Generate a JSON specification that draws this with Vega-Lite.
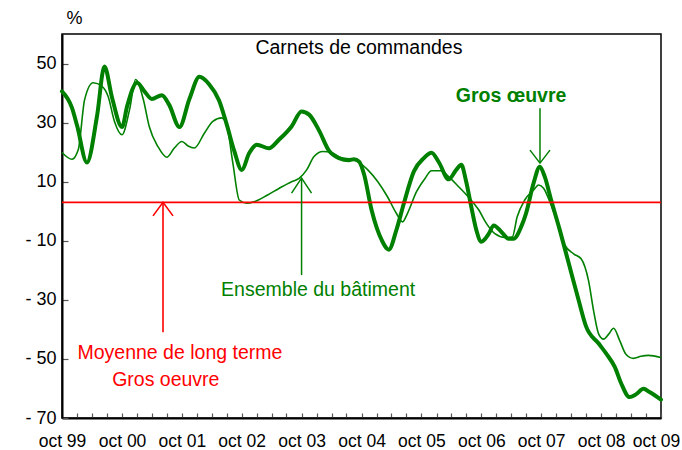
{
  "$schema": "https://vega.github.io/schema/vega-lite/v6.json",
  "autosize": "none",
  "width": 599,
  "height": 384,
  "padding": {"left": 62, "top": 34, "right": 21, "bottom": 32},
  "background": "#ffffff",
  "config": {
    "font": "Liberation Sans",
    "view": {"stroke": "#000000", "strokeWidth": 1.5},
    "axis": {"grid": false, "labelColor": "#000000", "domainColor": "#000000", "domainWidth": 2, "tickColor": "#555555", "tickWidth": 1.2, "labelFontSize": 18, "labelFont": "Liberation Sans"}
  },
  "datasets": {
    "series": [
      {"date": "1999-10-01", "series": "gros", "value": 40.6},
      {"date": "1999-12-01", "series": "gros", "value": 35},
      {"date": "2000-01-01", "series": "gros", "value": 29},
      {"date": "2000-03-01", "series": "gros", "value": 16.5},
      {"date": "2000-05-01", "series": "gros", "value": 32},
      {"date": "2000-06-16", "series": "gros", "value": 49},
      {"date": "2000-08-01", "series": "gros", "value": 38.5},
      {"date": "2000-10-01", "series": "gros", "value": 28.5},
      {"date": "2000-11-01", "series": "gros", "value": 35.5},
      {"date": "2001-01-01", "series": "gros", "value": 43.5},
      {"date": "2001-02-16", "series": "gros", "value": 40.5},
      {"date": "2001-04-01", "series": "gros", "value": 38},
      {"date": "2001-06-01", "series": "gros", "value": 39.3},
      {"date": "2001-07-16", "series": "gros", "value": 36},
      {"date": "2001-09-16", "series": "gros", "value": 28.5},
      {"date": "2001-11-16", "series": "gros", "value": 38},
      {"date": "2002-01-16", "series": "gros", "value": 45.5},
      {"date": "2002-03-16", "series": "gros", "value": 43},
      {"date": "2002-05-16", "series": "gros", "value": 37.5},
      {"date": "2002-07-01", "series": "gros", "value": 29.5},
      {"date": "2002-08-16", "series": "gros", "value": 20.5},
      {"date": "2002-10-01", "series": "gros", "value": 14},
      {"date": "2002-11-16", "series": "gros", "value": 19.7},
      {"date": "2003-01-01", "series": "gros", "value": 22.5},
      {"date": "2003-03-16", "series": "gros", "value": 21.3},
      {"date": "2003-05-16", "series": "gros", "value": 24.2},
      {"date": "2003-08-01", "series": "gros", "value": 28.7},
      {"date": "2003-10-01", "series": "gros", "value": 33.8},
      {"date": "2003-11-16", "series": "gros", "value": 32.7},
      {"date": "2004-01-16", "series": "gros", "value": 27.3},
      {"date": "2004-03-16", "series": "gros", "value": 20.5},
      {"date": "2004-05-16", "series": "gros", "value": 18},
      {"date": "2004-07-16", "series": "gros", "value": 17.3},
      {"date": "2004-08-16", "series": "gros", "value": 17.6},
      {"date": "2004-09-16", "series": "gros", "value": 16.8},
      {"date": "2004-10-16", "series": "gros", "value": 12.5},
      {"date": "2004-12-01", "series": "gros", "value": 0.4},
      {"date": "2005-02-01", "series": "gros", "value": -9.8},
      {"date": "2005-03-16", "series": "gros", "value": -13},
      {"date": "2005-05-01", "series": "gros", "value": -6.4},
      {"date": "2005-06-16", "series": "gros", "value": 2.7},
      {"date": "2005-08-16", "series": "gros", "value": 13.5},
      {"date": "2005-10-16", "series": "gros", "value": 18},
      {"date": "2005-12-01", "series": "gros", "value": 19.8},
      {"date": "2006-01-16", "series": "gros", "value": 16.5},
      {"date": "2006-03-16", "series": "gros", "value": 10.8},
      {"date": "2006-05-01", "series": "gros", "value": 14},
      {"date": "2006-06-01", "series": "gros", "value": 15.7},
      {"date": "2006-07-01", "series": "gros", "value": 10},
      {"date": "2006-08-01", "series": "gros", "value": 1.5},
      {"date": "2006-09-01", "series": "gros", "value": -6.4},
      {"date": "2006-10-01", "series": "gros", "value": -10.3},
      {"date": "2006-11-16", "series": "gros", "value": -7.6},
      {"date": "2006-12-16", "series": "gros", "value": -4.8},
      {"date": "2007-02-01", "series": "gros", "value": -7},
      {"date": "2007-03-16", "series": "gros", "value": -9.3},
      {"date": "2007-04-16", "series": "gros", "value": -9.3},
      {"date": "2007-06-01", "series": "gros", "value": -5.3},
      {"date": "2007-07-01", "series": "gros", "value": -0.7},
      {"date": "2007-08-16", "series": "gros", "value": 9.5},
      {"date": "2007-09-23", "series": "gros", "value": 15.1},
      {"date": "2007-10-23", "series": "gros", "value": 11.7},
      {"date": "2007-12-01", "series": "gros", "value": 3.8},
      {"date": "2008-01-23", "series": "gros", "value": -6.4},
      {"date": "2008-03-23", "series": "gros", "value": -18.8},
      {"date": "2008-05-16", "series": "gros", "value": -30},
      {"date": "2008-07-01", "series": "gros", "value": -39},
      {"date": "2008-09-16", "series": "gros", "value": -44.8},
      {"date": "2008-11-01", "series": "gros", "value": -48.2},
      {"date": "2008-12-23", "series": "gros", "value": -52.7},
      {"date": "2009-02-01", "series": "gros", "value": -58.4},
      {"date": "2009-03-23", "series": "gros", "value": -62.9},
      {"date": "2009-05-01", "series": "gros", "value": -62},
      {"date": "2009-06-16", "series": "gros", "value": -60.1},
      {"date": "2009-07-23", "series": "gros", "value": -61.2},
      {"date": "2009-10-01", "series": "gros", "value": -63.8},
      {"date": "1999-10-01", "series": "ensemble", "value": 19.9},
      {"date": "1999-12-01", "series": "ensemble", "value": 17.6},
      {"date": "2000-01-08", "series": "ensemble", "value": 20.8},
      {"date": "2000-02-16", "series": "ensemble", "value": 37.8},
      {"date": "2000-04-08", "series": "ensemble", "value": 43.5},
      {"date": "2000-06-01", "series": "ensemble", "value": 42.3},
      {"date": "2000-07-08", "series": "ensemble", "value": 38.9},
      {"date": "2000-08-16", "series": "ensemble", "value": 30.4},
      {"date": "2000-10-01", "series": "ensemble", "value": 25.9},
      {"date": "2000-11-16", "series": "ensemble", "value": 34.4},
      {"date": "2000-12-23", "series": "ensemble", "value": 44.6},
      {"date": "2001-02-08", "series": "ensemble", "value": 37.8},
      {"date": "2001-03-16", "series": "ensemble", "value": 28.7},
      {"date": "2001-05-08", "series": "ensemble", "value": 21.9},
      {"date": "2001-07-01", "series": "ensemble", "value": 18.3},
      {"date": "2001-08-16", "series": "ensemble", "value": 21.4},
      {"date": "2001-10-01", "series": "ensemble", "value": 23.6},
      {"date": "2001-11-08", "series": "ensemble", "value": 22.1},
      {"date": "2001-12-16", "series": "ensemble", "value": 21.4},
      {"date": "2002-02-16", "series": "ensemble", "value": 26.5},
      {"date": "2002-04-08", "series": "ensemble", "value": 30.4},
      {"date": "2002-06-01", "series": "ensemble", "value": 31.6},
      {"date": "2002-07-01", "series": "ensemble", "value": 29.3},
      {"date": "2002-08-08", "series": "ensemble", "value": 16.3},
      {"date": "2002-09-16", "series": "ensemble", "value": 3.8},
      {"date": "2002-11-01", "series": "ensemble", "value": 2.7},
      {"date": "2002-12-16", "series": "ensemble", "value": 3.2},
      {"date": "2003-03-08", "series": "ensemble", "value": 5.5},
      {"date": "2003-05-16", "series": "ensemble", "value": 7.7},
      {"date": "2003-08-01", "series": "ensemble", "value": 10},
      {"date": "2003-09-16", "series": "ensemble", "value": 11.1},
      {"date": "2003-11-01", "series": "ensemble", "value": 14},
      {"date": "2003-12-16", "series": "ensemble", "value": 18.5},
      {"date": "2004-02-08", "series": "ensemble", "value": 20.2},
      {"date": "2004-04-01", "series": "ensemble", "value": 19.9},
      {"date": "2004-06-01", "series": "ensemble", "value": 18},
      {"date": "2004-08-01", "series": "ensemble", "value": 17.6},
      {"date": "2004-09-08", "series": "ensemble", "value": 16.8},
      {"date": "2004-11-08", "series": "ensemble", "value": 14},
      {"date": "2005-01-08", "series": "ensemble", "value": 10},
      {"date": "2005-03-08", "series": "ensemble", "value": 4.9},
      {"date": "2005-05-01", "series": "ensemble", "value": -0.7},
      {"date": "2005-06-08", "series": "ensemble", "value": -3.6},
      {"date": "2005-07-08", "series": "ensemble", "value": -0.7},
      {"date": "2005-09-01", "series": "ensemble", "value": 6.6},
      {"date": "2005-10-23", "series": "ensemble", "value": 11.1},
      {"date": "2005-12-01", "series": "ensemble", "value": 13.7},
      {"date": "2006-02-01", "series": "ensemble", "value": 13.7},
      {"date": "2006-03-16", "series": "ensemble", "value": 11.7},
      {"date": "2006-05-16", "series": "ensemble", "value": 8.3},
      {"date": "2006-07-16", "series": "ensemble", "value": 4.7},
      {"date": "2006-09-16", "series": "ensemble", "value": 0.4},
      {"date": "2006-11-01", "series": "ensemble", "value": -4.1},
      {"date": "2006-12-23", "series": "ensemble", "value": -7.6},
      {"date": "2007-02-23", "series": "ensemble", "value": -8.9},
      {"date": "2007-04-08", "series": "ensemble", "value": -8.7},
      {"date": "2007-05-08", "series": "ensemble", "value": -1.9},
      {"date": "2007-06-23", "series": "ensemble", "value": 3.8},
      {"date": "2007-08-16", "series": "ensemble", "value": 7.2},
      {"date": "2007-09-16", "series": "ensemble", "value": 8.9},
      {"date": "2007-10-16", "series": "ensemble", "value": 7.8},
      {"date": "2007-11-23", "series": "ensemble", "value": 3.2},
      {"date": "2008-01-16", "series": "ensemble", "value": -5.3},
      {"date": "2008-02-23", "series": "ensemble", "value": -11.5},
      {"date": "2008-04-16", "series": "ensemble", "value": -14.4},
      {"date": "2008-06-01", "series": "ensemble", "value": -16.1},
      {"date": "2008-07-16", "series": "ensemble", "value": -23.5},
      {"date": "2008-08-16", "series": "ensemble", "value": -33.7},
      {"date": "2008-09-16", "series": "ensemble", "value": -41.6},
      {"date": "2008-10-16", "series": "ensemble", "value": -43.3},
      {"date": "2008-11-16", "series": "ensemble", "value": -41.6},
      {"date": "2008-12-16", "series": "ensemble", "value": -39.6},
      {"date": "2009-01-23", "series": "ensemble", "value": -43.9},
      {"date": "2009-03-01", "series": "ensemble", "value": -48.4},
      {"date": "2009-04-16", "series": "ensemble", "value": -49.8},
      {"date": "2009-06-01", "series": "ensemble", "value": -49.1},
      {"date": "2009-07-16", "series": "ensemble", "value": -48.8},
      {"date": "2009-10-01", "series": "ensemble", "value": -49.5}
    ],
    "arrows": [
      {"arrow": "moyenne", "date": "2001-06-08", "value": 3, "tail": -41},
      {"arrow": "ensemble", "date": "2003-10-01", "value": 11.2, "tail": -21.6},
      {"arrow": "gros", "date": "2007-09-24", "value": 16.3, "tail": 34.9}
    ],
    "notes": [
      {"note": "titre", "date": "2004-09-15", "value": 55.3, "text": "Carnets de commandes"},
      {"note": "gros", "date": "2007-04-01", "value": 39, "text": "Gros œuvre"},
      {"note": "ensemble", "date": "2004-01-10", "value": -26.7, "text": "Ensemble du bâtiment"},
      {"note": "moyenne", "date": "2001-09-19", "value": -48, "text": "Moyenne de long terme"},
      {"note": "moyenne", "date": "2001-06-25", "value": -57.1, "text": "Gros oeuvre"}
    ],
    "moyenne": [
      {"value": 3}
    ]
  },
  "layer": [
    {
      "data": {"name": "series"},
      "transform": [{"filter": "datum.series == 'ensemble'"}],
      "mark": {"type": "line", "color": "#008000", "strokeWidth": 1.6, "interpolate": "monotone"},
      "encoding": {
        "x": {
          "field": "date", "type": "temporal",
          "scale": {"type": "utc", "domain": [{"year": 1999, "month": 10, "date": 1, "utc": true}, {"year": 2009, "month": 10, "date": 1, "utc": true}], "nice": false},
          "axis": {
            "title": null,
            "tickCount": {"interval": "month", "step": 3},
            "labelExpr": "utcmonth(datum.value) == 9 ? 'oct ' + utcFormat(datum.value, '%y') : ''",
            "labelOffset": {"condition": {"test": "utcyear(datum.value) == 2009", "value": -5}, "value": 0},
            "tickSize": -5,
            "labelPadding": 19,
            "labelOverlap": false,
            "labelFlush": false,
            "labelBound": false,
            "labelFontSize": 17.5
          }
        },
        "y": {
          "field": "value", "type": "quantitative",
          "scale": {"domain": [-70, 60], "nice": false, "zero": false},
          "axis": {
            "title": "%",
            "titleAngle": 0,
            "titleX": 4,
            "titleY": -16,
            "titleAlign": "left",
            "titleBaseline": "middle",
            "titleFontSize": 18,
            "titleFontWeight": "normal",
            "titleColor": "#000000",
            "values": [50, 30, 10, -10, -30, -50, -70],
            "labelExpr": "datum.value < 0 ? '- ' + abs(datum.value) : '' + datum.value",
            "tickSize": -6,
            "labelPadding": 12
          }
        }
      }
    },
    {
      "data": {"name": "series"},
      "transform": [{"filter": "datum.series == 'gros'"}],
      "mark": {"type": "line", "color": "#008000", "strokeWidth": 4, "interpolate": "monotone", "strokeCap": "round", "strokeJoin": "round"},
      "encoding": {
        "x": {"field": "date", "type": "temporal"},
        "y": {"field": "value", "type": "quantitative"}
      }
    },
    {
      "data": {"name": "moyenne"},
      "mark": {"type": "rule", "color": "#ff0000", "strokeWidth": 1.6},
      "encoding": {"y": {"field": "value", "type": "quantitative"}}
    },
    {
      "data": {"name": "arrows"},
      "transform": [{"filter": "datum.arrow == 'moyenne'"}],
      "mark": {"type": "rule", "color": "#ff0000", "strokeWidth": 1.6},
      "encoding": {
        "x": {"field": "date", "type": "temporal"},
        "y": {"field": "value", "type": "quantitative"},
        "y2": {"field": "tail"}
      }
    },
    {
      "data": {"name": "arrows"},
      "transform": [{"filter": "datum.arrow == 'moyenne'"}],
      "mark": {"type": "point", "shape": "M-1,1.35L0,0L1,1.35", "filled": false, "stroke": "#ff0000", "strokeWidth": 1.6, "size": 400, "opacity": 1},
      "encoding": {
        "x": {"field": "date", "type": "temporal"},
        "y": {"field": "value", "type": "quantitative"}
      }
    },
    {
      "data": {"name": "arrows"},
      "transform": [{"filter": "datum.arrow != 'moyenne'"}],
      "mark": {"type": "rule", "color": "#008000", "strokeWidth": 1.5},
      "encoding": {
        "x": {"field": "date", "type": "temporal"},
        "y": {"field": "value", "type": "quantitative"},
        "y2": {"field": "tail"}
      }
    },
    {
      "data": {"name": "arrows"},
      "transform": [{"filter": "datum.arrow == 'ensemble'"}],
      "mark": {"type": "point", "shape": "M-1,1.5L0,0L1,1.5", "filled": false, "stroke": "#008000", "strokeWidth": 1.5, "size": 400, "opacity": 1},
      "encoding": {
        "x": {"field": "date", "type": "temporal"},
        "y": {"field": "value", "type": "quantitative"}
      }
    },
    {
      "data": {"name": "arrows"},
      "transform": [{"filter": "datum.arrow == 'gros'"}],
      "mark": {"type": "point", "shape": "M-1,-1.3L0,0L1,-1.3", "filled": false, "stroke": "#008000", "strokeWidth": 1.5, "size": 400, "opacity": 1},
      "encoding": {
        "x": {"field": "date", "type": "temporal"},
        "y": {"field": "value", "type": "quantitative"}
      }
    },
    {
      "data": {"name": "notes"},
      "transform": [{"filter": "datum.note == 'titre'"}],
      "mark": {"type": "text", "color": "#000000", "fontSize": 19.5, "align": "center", "baseline": "middle"},
      "encoding": {
        "x": {"field": "date", "type": "temporal"},
        "y": {"field": "value", "type": "quantitative"},
        "text": {"field": "text"}
      }
    },
    {
      "data": {"name": "notes"},
      "transform": [{"filter": "datum.note == 'gros'"}],
      "mark": {"type": "text", "color": "#008000", "fontSize": 19.5, "fontWeight": "bold", "align": "center", "baseline": "middle"},
      "encoding": {
        "x": {"field": "date", "type": "temporal"},
        "y": {"field": "value", "type": "quantitative"},
        "text": {"field": "text"}
      }
    },
    {
      "data": {"name": "notes"},
      "transform": [{"filter": "datum.note == 'ensemble'"}],
      "mark": {"type": "text", "color": "#008000", "fontSize": 19.5, "align": "center", "baseline": "middle"},
      "encoding": {
        "x": {"field": "date", "type": "temporal"},
        "y": {"field": "value", "type": "quantitative"},
        "text": {"field": "text"}
      }
    },
    {
      "data": {"name": "notes"},
      "transform": [{"filter": "datum.note == 'moyenne'"}],
      "mark": {"type": "text", "color": "#ff0000", "fontSize": 19.5, "align": "center", "baseline": "middle"},
      "encoding": {
        "x": {"field": "date", "type": "temporal"},
        "y": {"field": "value", "type": "quantitative"},
        "text": {"field": "text"}
      }
    }
  ]
}
